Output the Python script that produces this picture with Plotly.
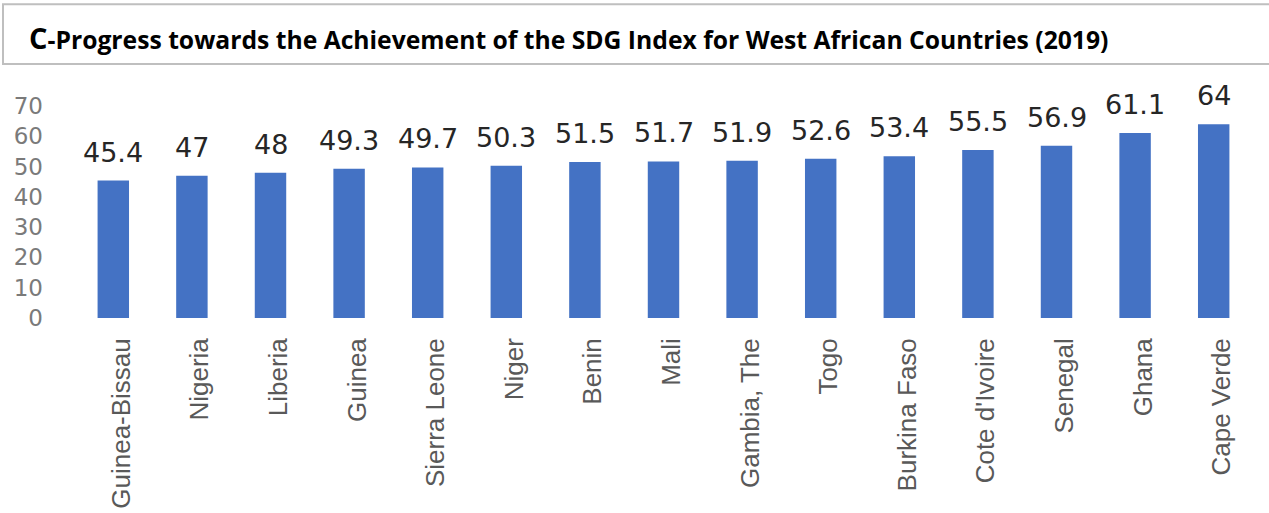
import plotly.graph_objects as go

countries = ["Guinea-Bissau", "Nigeria", "Liberia", "Guinea", "Sierra Leone", "Niger",
             "Benin", "Mali", "Gambia, The", "Togo", "Burkina Faso", "Cote d'Ivoire",
             "Senegal", "Ghana", "Cape Verde"]
sdg_index = [45.4, 47, 48, 49.3, 49.7, 50.3, 51.5, 51.7, 51.9, 52.6, 53.4, 55.5, 56.9, 61.1, 64]
value_labels = ["45.4", "47", "48", "49.3", "49.7", "50.3", "51.5", "51.7", "51.9", "52.6",
                "53.4", "55.5", "56.9", "61.1", "64"]
y_ticks = [0, 10, 20, 30, 40, 50, 60, 70]

W, H = 1269, 513
# plot area in window pixels: x 74..1253, y 106..318.5
ML = 74
MR = 1269 - 1253
MT = 106
MB = 513 - 318.5
pw = W - ML - MR
ph = H - MT - MB

def px_x(p):  # pixel -> paper x
    return (p - ML) / pw

def px_y(p):  # pixel -> paper y
    return (H - MB - p) / ph

fig = go.Figure()
fig.add_trace(go.Bar(
    x=countries, y=sdg_index,
    marker=dict(color="#4472C4", line=dict(width=0)),
    hoverinfo="x+y",
))

for c, v, t in zip(countries, sdg_index, value_labels):
    fig.add_annotation(x=c, y=v, text=t, showarrow=False, xanchor="center",
                       yanchor="bottom", yshift=11,
                       font=dict(family="DejaVu Sans", size=27, color="#262626"))

# title box
fig.add_shape(type="rect", xref="paper", yref="paper",
              x0=px_x(3), x1=px_x(W + 10), y0=px_y(64), y1=px_y(4),
              line=dict(color="#BFBFBF", width=2), fillcolor="rgba(0,0,0,0)", layer="above")
fig.add_annotation(xref="paper", yref="paper", x=px_x(27), y=px_y(37),
                   xanchor="left", yanchor="middle", showarrow=False,
                   text="<b><span style='font-size:29px'>C</span>-Progress towards the Achievement of the SDG Index for West African Countries (2019)</b>",
                   font=dict(family="Open Sans", size=24.7, color="#000000"))

fig.update_layout(
    width=W, height=H,
    margin=dict(l=ML, r=MR, t=MT, b=MB, pad=0, autoexpand=False),
    paper_bgcolor="white", plot_bgcolor="white",
    bargap=0.6, showlegend=False,
    xaxis=dict(type="category", tickangle=-90, showline=False, showgrid=False, ticks="",
               automargin=False, ticklabelstandoff=14, ticklabelshift=8,
               tickfont=dict(family="Liberation Sans Narrow, Arial Narrow, sans-serif", size=26, color="#595959")),
    yaxis=dict(range=[0, 70], tickvals=y_ticks, showgrid=False, showline=False, zeroline=False,
               automargin=False, ticks="", ticklabelstandoff=30,
               tickfont=dict(family="DejaVu Sans", size=23, color="#7A7A7A")),
)

fig.write_html("out.html", config={"displayModeBar": False},
               post_script="document.body.style.margin='0px';document.body.style.padding='0px';")
